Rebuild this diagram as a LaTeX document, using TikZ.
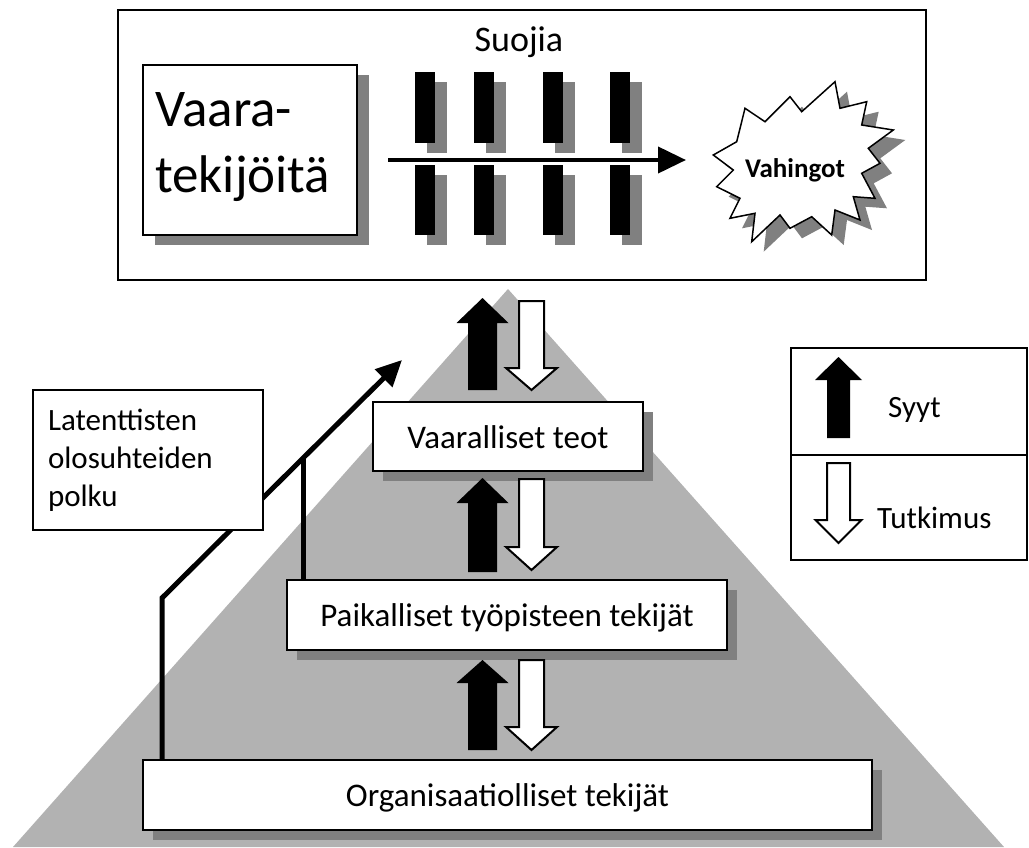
\documentclass[tikz,border=0pt]{standalone}
\usepackage{fontspec}
\setmainfont{Carlito}
\usetikzlibrary{arrows.meta,shadows}
\definecolor{pyr}{RGB}{178,178,178}
\definecolor{shd}{RGB}{128,128,128}
% block arrows: #1 options, #2 centre x, #3 top, #4 head base, #5 bottom/tip, #6 shaft half width, #7 head half width
\newcommand{\MyUpArr}[7]{\path[#1] ({#2-#6},#5) -- ({#2-#6},#4) -- ({#2-#7},#4) -- (#2,#3) -- ({#2+#7},#4) -- ({#2+#6},#4) -- ({#2+#6},#5) -- cycle;}
\newcommand{\MyDnArr}[7]{\path[#1] ({#2-#6},#3) -- ({#2-#6},#4) -- ({#2-#7},#4) -- (#2,#5) -- ({#2+#7},#4) -- ({#2+#6},#4) -- ({#2+#6},#3) -- cycle;}
\tikzset{
  plainbox/.style={draw=black, line width=2, fill=white, inner sep=0},
  shbox/.style={plainbox, drop shadow={shadow xshift=10pt, shadow yshift=-10pt, fill=shd, opacity=1}},
  lvl/.style={shbox, font=\fontsize{33}{40}\selectfont, text height=27pt, text depth=4pt},
  lbl/.style={inner sep=0, font=\fontsize{31}{38}\selectfont},
  pathline/.style={line width=5, draw=black},
  starshape/.pic={\path[pic actions] (745,108.3) -- (765,121.7) -- (790,96.7) -- (801.7,111.7) -- (835,81.7) -- (840,108.3) -- (866.7,101.7) -- (861.7,125) -- (893.3,130) -- (868.3,148.3) -- (880,163.3) -- (861.7,173.3) -- (875,198.3) -- (853.3,196.7) -- (860,220) -- (835,210) -- (831.7,235) -- (811.7,216.7) -- (790,228.3) -- (780,215) -- (751.7,241.7) -- (755,213.3) -- (730,218.3) -- (740,198.3) -- (716.7,186.7) -- (733.3,170) -- (713.3,155) -- (736.7,141.7) -- cycle;}
}
\begin{document}
\begin{tikzpicture}[x=1pt,y=-1pt]
\useasboundingbox (0,0) rectangle (1029,847);
\fill[white] (0,0) rectangle (1029,847);

% ---------- top box ----------
\node[plainbox, minimum width=808, minimum height=270] (topbox) at (522,145) {};
\node[lbl, anchor=base, font=\fontsize{36}{43}\selectfont] (suojia) at (519,51) {Suojia};

\node[plainbox, line width=1.5, minimum width=214, minimum height=170,
      drop shadow={shadow xshift=12pt, shadow yshift=-10pt, fill=shd, opacity=1}] (vaara) at (250,150) {};
\node[lbl, anchor=base west, font=\fontsize{53}{64}\selectfont] (vt1) at (155,126) {Vaara-};
\node[lbl, anchor=base west, font=\fontsize{53}{64}\selectfont] (vt2) at (155,192) {tekijöitä};

\foreach \x in {415,474,543,610}{
  \fill[shd] (\x+12,82) rectangle (\x+32,153);
  \fill[shd] (\x+12,175) rectangle (\x+32,245);
  \fill[black] (\x,72) rectangle (\x+20,143);
  \fill[black] (\x,165) rectangle (\x+20,235);
}
\coordinate (hs) at (388,160);
\coordinate (he) at (686,160);
\draw[line width=4, -{Triangle[length=28pt, width=26pt]}] (hs) -- (he);

\pic[fill=shd] at (12,10) {starshape};
\pic[draw=black, line width=1.5, fill=white] at (0,0) {starshape};
\node[lbl, font=\fontsize{27}{32}\selectfont\bfseries] (vah) at (795,170) {Vahingot};

% ---------- pyramid ----------
\coordinate (apex) at (508,289);
\fill[pyr] (apex) -- (1004,847) -- (13,847) -- cycle;

\coordinate (pbend) at (162,598);
\coordinate (ptip) at (402,360);
\coordinate (pj) at (303,458);

\node[lvl, minimum width=729, minimum height=70] (org) at (507.5,795) {Organisaatiolliset tekijät};
\node[lvl, minimum width=440, minimum height=70] (pk) at (507,615) {Paikalliset työpisteen tekijät};
\node[lvl, minimum width=270, minimum height=69] (vtt) at (508,436.5) {Vaaralliset teot};

\draw[pathline, -{Triangle[length=26pt, width=24pt]}] (org.north -| pbend) -- (pbend) -- (ptip);
\draw[pathline] (pk.north -| pj) -- (pj);

\node[plainbox, minimum width=230, minimum height=140, text width=200, inner xsep=15, align=left,
      font=\fontsize{31}{38}\selectfont] (latent) at (148,460) {Latenttisten\\olosuhteiden\\polku};

% causes / investigation arrows
\MyUpArr{fill=black}{482.5}{298}{323}{390}{14.5}{26}
\MyDnArr{draw=black, line width=2, fill=white}{531.5}{301}{368}{390}{12.5}{25.5}
\MyUpArr{fill=black}{482.5}{478}{503}{572}{14.5}{26}
\MyDnArr{draw=black, line width=2, fill=white}{531.5}{479}{547}{570}{12.5}{25.5}
\MyUpArr{fill=black}{482.5}{660}{683}{750}{14.5}{26}
\MyDnArr{draw=black, line width=2, fill=white}{531.5}{660}{727}{750}{12.5}{25.5}

% ---------- legend ----------
\node[plainbox, minimum width=236, minimum height=212] (legend) at (909,454) {};
\coordinate (divy) at (0,455);
\draw[line width=2] (legend.west |- divy) -- (legend.east |- divy);
\MyUpArr{fill=black}{838.5}{357}{380}{438}{11.5}{23.5}
\MyDnArr{draw=black, line width=2, fill=white}{838.5}{463}{520}{543}{11.5}{23}
\node[lbl, anchor=base west] (syyt) at (888,417) {Syyt};
\node[lbl, anchor=base west] (tutk) at (877,528) {Tutkimus};
\end{tikzpicture}
\end{document}
